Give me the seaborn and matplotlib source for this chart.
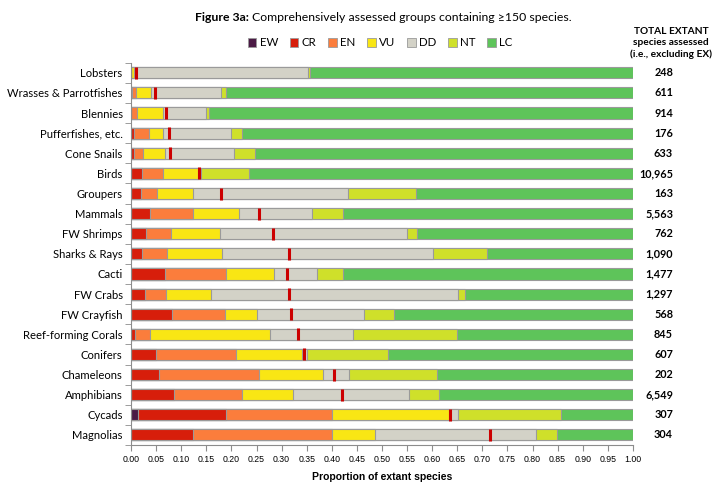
import numpy as np
import pandas as pd
import seaborn as sns
import matplotlib.pyplot as plt
from matplotlib.patches import Patch

# grupos (de arriba a abajo)
groups = ['Lobsters', 'Wrasses & Parrotfishes', 'Blennies', 'Pufferfishes, etc.',
          'Cone Snails', 'Birds', 'Groupers', 'Mammals', 'FW Shrimps', 'Sharks & Rays',
          'Cacti', 'FW Crabs', 'FW Crayfish', 'Reef-forming Corals', 'Conifers',
          'Chameleons', 'Amphibians', 'Cycads', 'Magnolias']

# proporciones por categoría de la Lista Roja
EW = [0, 0, 0, 0, 0, 0, 0, 0, 0, 0, 0, 0, 0, 0, 0, 0, 0, 0.014, 0]
CR = [0, 0.001, 0, 0.006, 0.006, 0.022, 0.019, 0.038, 0.030, 0.022,
      0.068, 0.027, 0.081, 0.008, 0.049, 0.056, 0.086, 0.175, 0.124]
EN = [0, 0.008, 0.011, 0.030, 0.017, 0.041, 0.032, 0.085, 0.049, 0.049,
      0.121, 0.043, 0.106, 0.030, 0.160, 0.198, 0.135, 0.211, 0.277]
VU = [0.006, 0.030, 0.053, 0.028, 0.044, 0.071, 0.073, 0.093, 0.098, 0.111,
      0.095, 0.089, 0.063, 0.238, 0.132, 0.129, 0.102, 0.234, 0.085]
DD = [0.347, 0.140, 0.085, 0.136, 0.138, 0.005, 0.309, 0.145, 0.372, 0.419,
      0.086, 0.493, 0.215, 0.167, 0.010, 0.051, 0.231, 0.018, 0.320]
NT = [0.004, 0.010, 0.006, 0.022, 0.043, 0.097, 0.135, 0.062, 0.020, 0.109,
      0.052, 0.014, 0.059, 0.207, 0.162, 0.176, 0.060, 0.205, 0.042]

# mejor estimación de la proporción amenazada (línea roja)
best_est = [0.010, 0.048, 0.070, 0.075, 0.078, 0.136, 0.180, 0.254, 0.282, 0.315,
            0.310, 0.315, 0.319, 0.332, 0.344, 0.405, 0.420, 0.636, 0.715]

totals = ['248', '611', '914', '176', '633', '10,965', '163', '5,563', '762', '1,090',
          '1,477', '1,297', '568', '845', '607', '202', '6,549', '307', '304']

cats = ['EW', 'CR', 'EN', 'VU', 'DD', 'NT', 'LC']
colors = ['#4b1a45', '#d71e0b', '#fb7d3c', '#f9e614', '#d3d2c7', '#cfe02a', '#5ec45a']

df = pd.DataFrame({'group': groups, 'EW': EW, 'CR': CR, 'EN': EN, 'VU': VU,
                   'DD': DD, 'NT': NT})
df['LC'] = 1 - df[cats[:-1]].sum(axis=1)

# acumulados para apilar
cum = df[cats].cumsum(axis=1)
cum['group'] = groups

plt.rcParams['font.family'] = ['Lato', 'DejaVu Sans']
fig = plt.figure(figsize=(7.2, 4.92), dpi=100)
ax = fig.add_axes([0.182, 0.0955, 0.697, 0.777])

# dibujar de la última categoría a la primera para que se superpongan
for cat, col in reversed(list(zip(cats, colors))):
    sns.barplot(data=cum, x=cat, y='group', color=col, width=0.55,
                edgecolor='#9a9a9a', linewidth=0.8, saturation=1, ax=ax, zorder=2)

ypos = np.arange(len(groups))
sns.scatterplot(x=best_est, y=ypos, marker='|', s=70, linewidth=2.2,
                color='#cc0000', ax=ax, zorder=4, legend=False)

ax.set_xlim(0, 1)
ax.set_ylim(len(groups) - 0.5, -0.5)
ax.set_xticks(np.arange(0, 1.0001, 0.05))
ax.set_xticklabels([f'{v:.2f}' for v in np.arange(0, 1.0001, 0.05)],
                   fontsize=6.3, family='Liberation Sans')
ax.set_yticks(ypos)
ax.set_yticklabels(groups, fontsize=8.1)
ax.set_yticks(np.arange(-0.5, len(groups), 1), minor=True)
ax.tick_params(axis='y', which='major', length=0, pad=6)
ax.tick_params(axis='y', which='minor', length=4, color='#8c8c8c')
ax.tick_params(axis='x', length=4, color='#8c8c8c', pad=3)
ax.set_xlabel('Proportion of extant species', fontsize=7.5, fontweight='bold',
              family='Liberation Sans', labelpad=6)
ax.set_ylabel('')
for s in ['top', 'right']:
    ax.spines[s].set_visible(False)
for s in ['left', 'bottom']:
    ax.spines[s].set_color('#8c8c8c')
    ax.spines[s].set_linewidth(0.8)

# columna de totales
trans = ax.get_yaxis_transform()
for i, t in enumerate(totals):
    ax.text(1.08, i, t, transform=trans, ha='right', va='center',
            fontsize=7.8, fontweight='bold', clip_on=False)
fig.text(0.932, 0.912, 'TOTAL EXTANT\nspecies assessed\n(i.e., excluding EX)',
         ha='center', va='center', fontsize=7.3, fontweight='bold', linespacing=1.3)

# título: parte en negrita + resto normal
fig.text(0.345, 0.965, 'Figure 3a:', ha='right', va='center', fontsize=8.8,
         fontweight='bold')
fig.text(0.350, 0.965, 'Comprehensively assessed groups containing \u2265150 species.',
         ha='left', va='center', fontsize=8.8)

handles = [Patch(facecolor=c, edgecolor='#9a9a9a', linewidth=0.6, label=l)
           for c, l in zip(colors, cats)]
fig.legend(handles=handles, loc='center', bbox_to_anchor=(0.528, 0.913), ncol=7,
           frameon=False, fontsize=8.3, handlelength=0.75, handleheight=0.75,
           handletextpad=0.3, columnspacing=1.0)

plt.savefig('out.png', dpi=100)
